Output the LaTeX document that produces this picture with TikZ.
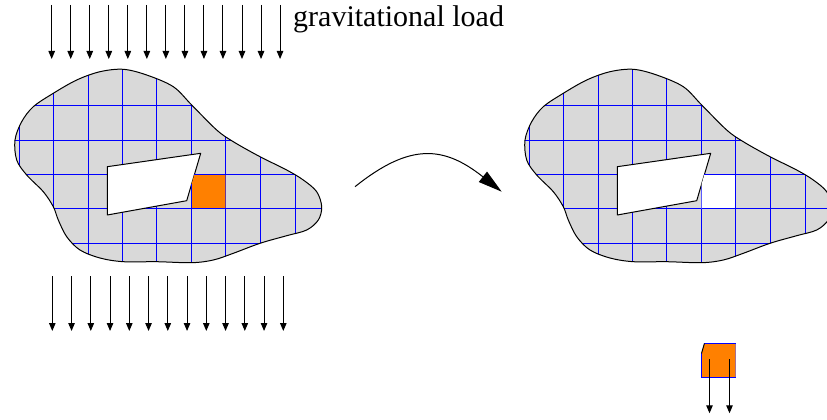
\documentclass[tikz,border=0pt]{standalone}
\usepackage{fontspec}
\setmainfont{Liberation Serif}
\usetikzlibrary{arrows.meta}
\definecolor{meshblue}{RGB}{0,0,255}
\tikzset{
  load/.style={-{Triangle[length=8pt,width=6.5pt]},line width=1pt},
  turn/.style={-{Triangle[length=24pt,width=13pt]},line width=1pt},
  body/.style={fill=gray!30},
  outline/.style={draw=black,line width=1pt},
  mesh/.style={draw=meshblue,line width=1pt},
  hole/.style={fill=white,draw=black,line width=1pt,line join=round},
}
\newcommand{\blobpath}{plot[smooth cycle,tension=0.55] coordinates {
  (123.3,69.3) (100,71.7) (76.7,80) (53.3,93.3) (33.3,106.7) (21.7,121.7)
  (15,140) (16.7,160) (26.7,175) (43.3,191.7) (53.3,206.7) (58.3,220)
  (66.7,236.7) (80,250) (100,258) (123.3,261.7) (156.7,261.7) (191.7,262.7)
  (213.3,260) (233.3,253.3) (260,243.3) (286.7,235.7) (306.7,230) (318.3,220)
  (321.7,206.7) (316.7,191.7) (303.3,180) (286.7,170) (260,156.7) (233.3,141.7)
  (216.7,130) (191.7,105) (173.3,86.7) (146.7,75)}}
\newcommand{\holepath}{(107.3,166.7) -- (200.7,153.3) -- (186.7,200.7) -- (107.3,215) -- cycle}
\newcommand{\piecepath}{(194.4,174.5) -- (225.5,174.5) -- (225.5,208.5) -- (191.5,208.5) -- (191.5,184.4) -- cycle}
\newcommand{\meshlines}{%
  \foreach \gx in {19.5,53.5,88.5,122.5,156.5,191.5,225.5,260.5,295.5} {(\gx,60) -- (\gx,270)}
  \foreach \gy in {105.5,140.5,174.5,208.5,243.5} {(10,\gy) -- (330,\gy)}}

\begin{document}
\begin{tikzpicture}[x=1pt,y=-1pt]
  \useasboundingbox (0,0) rectangle (827,420);

  % --- load above and below ---
  \foreach \i in {0,...,12}
    \draw[load] (51.7+19.03*\i,5) -- (51.7+19.03*\i,59);
  \foreach \i in {0,...,12}
    \draw[load] (52.3+19.25*\i,276) -- (52.3+19.25*\i,331);
  \node[anchor=base west,inner sep=0pt,font=\fontsize{30}{36}\selectfont] (lbl) at (293,26.7) {gravitational load};

  % --- body before ---
  \fill[body] \blobpath;
  \begin{scope}
    \clip \blobpath;
    \draw[mesh] \meshlines;
  \end{scope}
  \path[hole] \holepath;
  \fill[orange] \piecepath;
  \draw[mesh] (191.5,184.4) -- (191.5,208.5) -- (225.5,208.5);
  \draw[mesh] (194.4,174.5) -- (225.5,174.5);
  \draw[mesh,draw opacity=0.35] (225.5,174.5) -- (225.5,208.5);
  \draw[outline] \blobpath;

  % --- body after ---
  \begin{scope}[xshift=510pt]
    \fill[body] \blobpath;
    \begin{scope}
      \clip \blobpath;
      \draw[mesh] \meshlines;
    \end{scope}
    \path[hole] \holepath;
    \fill[white] \piecepath;
    \draw[mesh] (194.4,174.5) -- (225.5,174.5) -- (225.5,208.5) -- (191.5,208.5);
    \draw[outline] \blobpath;
  \end{scope}

  % --- detached piece ---
  \begin{scope}[xshift=510pt,yshift=-169pt]
    \fill[orange] \piecepath;
    \draw[mesh] (194.4,174.5) -- (225.5,174.5);
    \draw[mesh] (191.5,184.4) -- (191.5,208.5) -- (225.5,208.5);
    \draw[mesh,draw opacity=0.35] (225.5,174.5) -- (225.5,208.5);
    \draw[line width=1pt] (194.4,174.5) -- (191.5,184.4);
  \end{scope}
  \coordinate (p1) at (709.5,359.3);
  \coordinate (p2) at (729.5,359.3);
  \draw[load] (p1) -- ++(0,54);
  \draw[load] (p2) -- ++(0,54);

  % --- before -> after ---
  \coordinate (src) at (355,186.7);
  \coordinate (dst) at (501.7,191.7);
  \draw[turn] (src) .. controls (410,142.7) and (443.7,145.7) .. (dst);
\end{tikzpicture}
\end{document}
